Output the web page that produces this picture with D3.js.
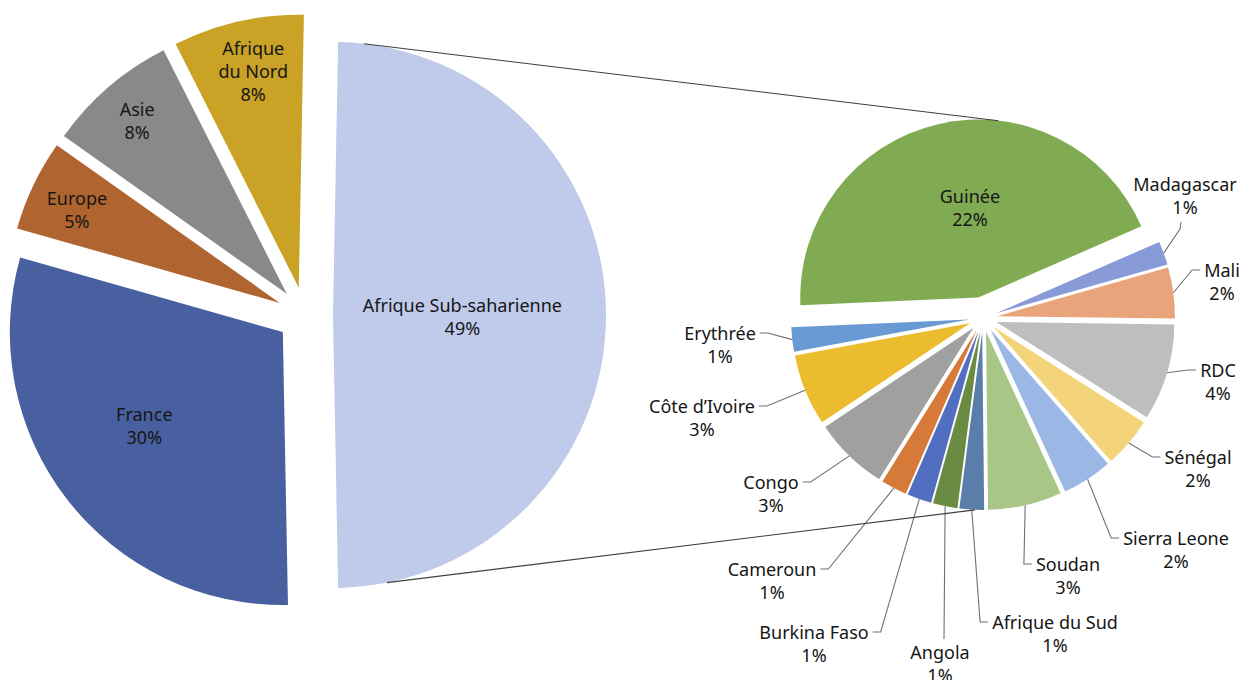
<!DOCTYPE html>
<html><head><meta charset="utf-8">
<script src="https://cdn.jsdelivr.net/npm/d3@7"></script>
<style>
html,body{margin:0;padding:0;background:#fff;}
svg{display:block;}
text{font-family:"Noto Sans","Open Sans",sans-serif;fill:#161616;}
</style>
</head><body>
<svg id="chart" width="1242" height="680"></svg>
<script>
// ---------- DATA ----------
const mainCategories = ["Afrique Sub-saharienne", "France", "Europe", "Asie", "Afrique du Nord"];
const mainValues = [49.4, 29.7, 5.4, 7.75, 7.75];
const mainColors = ["#C0CAEA", "#4860A0", "#B06430", "#898989", "#C9A226"];

const subCategories = ["Guinée", "Madagascar", "Mali", "RDC", "Sénégal", "Sierra Leone", "Soudan",
  "Afrique du Sud", "Angola", "Burkina Faso", "Cameroun", "Congo", "Côte d’Ivoire", "Erythrée"];
const subValues = [21.81, 1.06, 2.29, 4.34, 2.25, 2.26, 3.31, 1.10, 1.10, 1.10, 1.17, 3.34, 3.20, 1.09];
const subColors = ["#80AB52", "#889BD7", "#EAA47C", "#BEBEBE", "#F3D47A", "#9BB7E6", "#A8C686",
  "#5A7DAA", "#6A8C42", "#526EC1", "#D57A38", "#A0A0A0", "#EBBC2E", "#6A9AD4"];

// ---------- LAYOUT ----------
const P1 = {cx: 305, cy: 315, r: 273, explode: 28};
const P2 = {cx: 983, cy: 318, r: 178, explode: 14, bigExplode: 21, startDeg: 267.5};
const FONT = 18, LINE = 23;
// main-pie inside labels: [radius factor from apex, angle offset deg, line break]
const mainLabelLayout = {
  "Afrique Sub-saharienne": [0.474, 0.7, ["Afrique Sub-saharienne"]],
  "France": [0.612, 3.6, ["France"]],
  "Europe": [0.818, -0.8, ["Europe"]],
  "Asie": [0.839, 0, ["Asie"]],
  "Afrique du Nord": [0.811, 1, ["Afrique", "du Nord"]]
};
// sub-pie labels: first-line centre offset from pie centre, and leader attach side
const subLabelLayout = {
  "Guinée": {inside: true, f: 0.51, off: 7.8},
  "Madagascar": {dx: 202, dy: -134, side: "B"},
  "Mali": {dx: 239, dy: -48, side: "L"},
  "RDC": {dx: 235, dy: 52, side: "L"},
  "Sénégal": {dx: 215, dy: 139, side: "L"},
  "Sierra Leone": {dx: 193, dy: 220, side: "L"},
  "Soudan": {dx: 85, dy: 246, side: "L"},
  "Afrique du Sud": {dx: 72, dy: 304, side: "L"},
  "Angola": {dx: -43, dy: 334, side: "T"},
  "Burkina Faso": {dx: -169, dy: 314, side: "R"},
  "Cameroun": {dx: -211, dy: 251, side: "R"},
  "Congo": {dx: -212, dy: 164, side: "R"},
  "Côte d’Ivoire": {dx: -281, dy: 88, side: "R"},
  "Erythrée": {dx: -263, dy: 15, side: "R"}
};
const connectorAngles = {leftTop: 6.5, leftBottom: 168.6, rightTop: 6.5, rightBottom: 182.3};

// ---------- DRAW ----------
const svg = d3.select("#chart");
const rad = d => d * Math.PI / 180;
const polar = (c, r, a) => [c[0] + r * Math.sin(a), c[1] - r * Math.cos(a)];
const pct = v => Math.round(v) + "%";

// main pie
const mainData = mainCategories.map((c, i) => ({name: c, value: mainValues[i], color: mainColors[i]}));
const total1 = d3.sum(mainValues);
const s1 = Math.PI / 2 - (mainValues[0] / total1) * Math.PI;
const pie1 = d3.pie().sort(null).value(d => d.value).startAngle(s1).endAngle(s1 + 2 * Math.PI);
const arcs1 = pie1(mainData);
const arc1 = d3.arc().innerRadius(0).outerRadius(P1.r);
arcs1.forEach(a => {
  a.mid = (a.startAngle + a.endAngle) / 2;
  a.apex = polar([P1.cx, P1.cy], P1.explode, a.mid);
});
const g1 = svg.append("g");
g1.selectAll("path").data(arcs1).join("path")
  .attr("transform", d => `translate(${d.apex[0]},${d.apex[1]})`)
  .attr("d", arc1).attr("fill", d => d.data.color);

arcs1.forEach(a => {
  const [f, off, lines] = mainLabelLayout[a.data.name];
  const p = polar(a.apex, f * P1.r, a.mid + rad(off));
  const all = lines.concat([pct(a.data.value)]);
  const t = g1.append("text").attr("text-anchor", "middle").attr("font-size", FONT);
  all.forEach((l, i) => {
    t.append("tspan").attr("x", p[0]).attr("y", p[1] + (i - (all.length - 1) / 2) * LINE)
      .attr("dominant-baseline", "central").text(l);
  });
});

// sub pie
const subData = subCategories.map((c, i) => ({name: c, value: subValues[i], color: subColors[i]}));
const s2 = rad(P2.startDeg);
const pie2 = d3.pie().sort(null).value(d => d.value).startAngle(s2).endAngle(s2 + 2 * Math.PI);
const arcs2 = pie2(subData);
const arc2 = d3.arc().innerRadius(0).outerRadius(P2.r);
const C2 = [P2.cx, P2.cy];
arcs2.forEach((a, i) => {
  a.mid = (a.startAngle + a.endAngle) / 2;
  a.exp = i === 0 ? P2.bigExplode : P2.explode;
  a.apex = polar(C2, a.exp, a.mid);
});
const g2 = svg.append("g");
g2.selectAll("path").data(arcs2).join("path")
  .attr("transform", d => `translate(${d.apex[0]},${d.apex[1]})`)
  .attr("d", arc2).attr("fill", d => d.data.color);

const gl = svg.append("g");
arcs2.forEach(a => {
  const L = subLabelLayout[a.data.name];
  const lines = [a.data.name, pct(a.data.value)];
  if (L.inside) {
    const p = polar(a.apex, L.f * P2.r, a.mid + rad(L.off));
    const t = gl.append("text").attr("text-anchor", "middle").attr("font-size", FONT);
    lines.forEach((l, i) => t.append("tspan").attr("x", p[0]).attr("y", p[1] + (i - 0.5) * LINE)
      .attr("dominant-baseline", "central").text(l));
    return;
  }
  const x = P2.cx + L.dx, y1 = P2.cy + L.dy;
  const t = gl.append("text").attr("text-anchor", "middle").attr("font-size", FONT);
  const spans = lines.map((l, i) => t.append("tspan").attr("x", x).attr("y", y1 + i * LINE)
    .attr("dominant-baseline", "central").text(l));
  const w = spans[0].node().getComputedTextLength();
  const start = polar(C2, P2.r + a.exp, a.mid);
  let pts;
  if (L.side === "L") {
    const end = [x - w / 2 - 4, y1];
    pts = [start, [end[0] - 8, y1], end];
  } else if (L.side === "R") {
    const end = [x + w / 2 + 4, y1];
    pts = [start, [end[0] + 8, y1], end];
  } else if (L.side === "B") {
    const end = [x - 4, y1 + LINE + 15];
    pts = [start, [end[0] - 1, end[1] + 7], end];
  } else {
    const end = [x + 4, y1 - 13];
    pts = [start, end];
  }
  gl.insert("path", ":first-child").attr("d", d3.line()(pts))
    .attr("fill", "none").attr("stroke", "#707070").attr("stroke-width", 1.1);
});

// connector lines between pies
const ssa = arcs1[0];
const findSub = ang => arcs2.find(a => {
  let x = ang; while (x < a.startAngle) x += 2 * Math.PI;
  return x >= a.startAngle && x <= a.endAngle;
});
const conn = (la, ra) => {
  const p = polar(ssa.apex, P1.r, rad(la));
  const s = findSub(rad(ra));
  const q = polar(s.apex, P2.r, rad(ra));
  svg.append("line").attr("x1", p[0]).attr("y1", p[1]).attr("x2", q[0]).attr("y2", q[1])
    .attr("stroke", "#3f3f3f").attr("stroke-width", 1.1);
};
conn(connectorAngles.leftTop, connectorAngles.rightTop);
conn(connectorAngles.leftBottom, connectorAngles.rightBottom);
</script>
</body></html>
